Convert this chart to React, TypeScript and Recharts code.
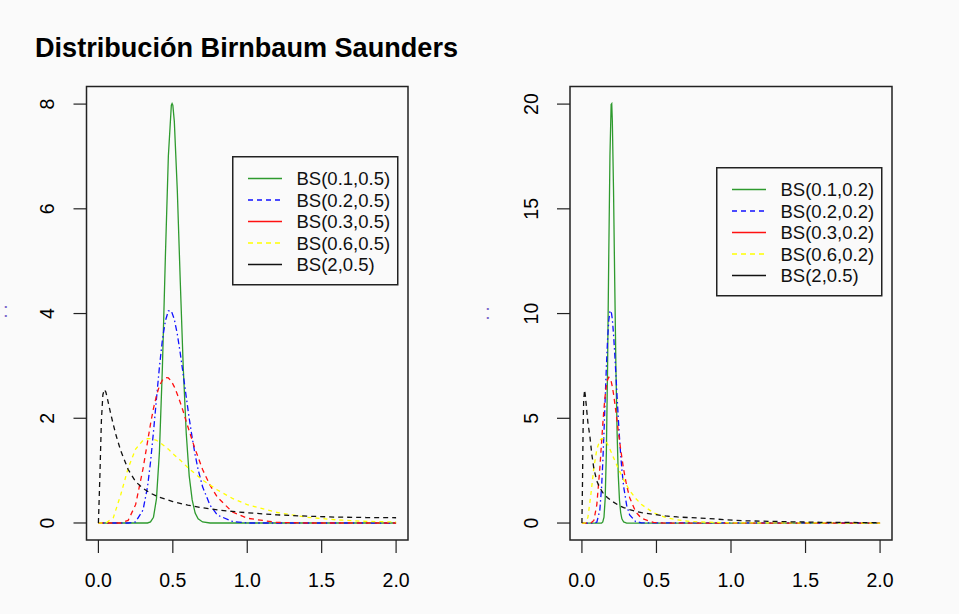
import React from 'react';
import { LineChart, Line, XAxis, YAxis, ReferenceArea, Legend } from 'recharts';

const FONT = '"Liberation Sans", Arial, sans-serif';
const TITLE = 'Distribución Birnbaum Saunders';

const xTicks = [0, 0.5, 1, 1.5, 2];
const xDomain: [number, number] = [-0.08, 2.08];

const leftYTicks = [0, 2, 4, 6, 8];
const leftYDomain: [number, number] = [-0.325, 8.336];
const rightYTicks = [0, 5, 10, 15, 20];
const rightYDomain: [number, number] = [-0.81, 20.84];

const leftLegendLabels = ['BS(0.1,0.5)', 'BS(0.2,0.5)', 'BS(0.3,0.5)', 'BS(0.6,0.5)', 'BS(2,0.5)'];
const rightLegendLabels = ['BS(0.1,0.2)', 'BS(0.2,0.2)', 'BS(0.3,0.2)', 'BS(0.6,0.2)', 'BS(2,0.5)'];

const seriesColors = ['#2e9a2e', '#1010ff', '#ff1010', '#ffff00', '#111111'];
const seriesDash = [undefined, '6 3 1.5 3', '5 4', '4 4', '5 4'];
const legendDash = [undefined, '5 4', undefined, '5 4', undefined];

// ---- left panel values ----
const leftGreenX = [0, 0.33, 0.35, 0.37, 0.39, 0.41, 0.43, 0.45, 0.47, 0.49, 0.495, 0.5, 0.51, 0.53, 0.55, 0.57, 0.59, 0.61, 0.63, 0.65, 0.67, 0.7, 0.75, 2.0];
const leftGreenY = [0, 0, 0.02, 0.11, 0.46, 1.36, 2.98, 5.09, 7.01, 7.98, 8.01, 7.98, 7.67, 6.36, 4.61, 2.97, 1.72, 0.9, 0.44, 0.19, 0.08, 0.02, 0, 0];

const leftBlueX = [0, 0.2, 0.25, 0.3, 0.33, 0.35, 0.37, 0.39, 0.41, 0.43, 0.45, 0.47, 0.49, 0.51, 0.53, 0.55, 0.57, 0.59, 0.61, 0.63, 0.65, 0.67, 0.7, 0.75, 0.8, 0.9, 1.0, 2.0];
const leftBlueY = [0, 0, 0.02, 0.25, 0.69, 1.16, 1.74, 2.37, 2.98, 3.5, 3.86, 4.05, 4.05, 3.89, 3.61, 3.24, 2.83, 2.41, 2.0, 1.63, 1.3, 1.02, 0.69, 0.34, 0.15, 0.03, 0, 0];

const leftRedX = [0, 0.15, 0.2, 0.25, 0.3, 0.33, 0.35, 0.37, 0.39, 0.41, 0.43, 0.45, 0.47, 0.49, 0.51, 0.53, 0.55, 0.57, 0.59, 0.61, 0.63, 0.65, 0.7, 0.75, 0.8, 0.9, 1.0, 1.2, 1.4, 2.0];
const leftRedY = [0, 0, 0.05, 0.35, 1.04, 1.55, 1.89, 2.19, 2.43, 2.62, 2.73, 2.78, 2.77, 2.71, 2.6, 2.46, 2.3, 2.13, 1.94, 1.76, 1.58, 1.41, 1.02, 0.72, 0.49, 0.21, 0.09, 0.01, 0, 0];

const leftYellowX = [0, 0.05, 0.1, 0.15, 0.2, 0.25, 0.3, 0.33, 0.35, 0.39, 0.43, 0.47, 0.51, 0.55, 0.6, 0.7, 0.8, 0.9, 1.0, 1.2, 1.4, 1.6, 1.8, 2.0];
const leftYellowY = [0, 0, 0.1, 0.54, 1.05, 1.41, 1.58, 1.61, 1.61, 1.58, 1.5, 1.41, 1.3, 1.2, 1.06, 0.82, 0.63, 0.47, 0.35, 0.2, 0.11, 0.06, 0.03, 0.02];

const leftBlackX = [0, 0.01, 0.02, 0.03, 0.04, 0.05, 0.06, 0.08, 0.1, 0.12, 0.15, 0.2, 0.25, 0.3, 0.35, 0.4, 0.5, 0.6, 0.7, 0.8, 0.9, 1.0, 1.2, 1.4, 1.6, 1.8, 2.0];
const leftBlackY = [0, 0.9, 1.95, 2.45, 2.55, 2.5, 2.38, 2.12, 1.88, 1.66, 1.38, 1.02, 0.79, 0.66, 0.57, 0.5, 0.41, 0.34, 0.29, 0.25, 0.22, 0.195, 0.155, 0.13, 0.112, 0.104, 0.1];

// ---- right panel values ----
const rightGreenX = [0, 0.132, 0.14, 0.148, 0.156, 0.164, 0.172, 0.18, 0.188, 0.196, 0.2, 0.204, 0.212, 0.22, 0.228, 0.236, 0.244, 0.252, 0.26, 0.268, 0.28, 0.3, 2.0];
const rightGreenY = [0, 0, 0.05, 0.28, 1.16, 3.39, 7.44, 12.73, 17.53, 19.98, 20.02, 19.18, 15.89, 11.52, 7.42, 4.3, 2.26, 1.09, 0.49, 0.2, 0.05, 0, 0];

const rightBlueX = [0, 0.08, 0.1, 0.12, 0.132, 0.14, 0.148, 0.156, 0.164, 0.172, 0.18, 0.188, 0.196, 0.204, 0.212, 0.22, 0.228, 0.236, 0.244, 0.252, 0.26, 0.268, 0.28, 0.3, 0.32, 0.36, 0.4, 2.0];
const rightBlueY = [0, 0, 0.04, 0.61, 1.73, 2.9, 4.35, 5.93, 7.46, 8.75, 9.66, 10.12, 10.13, 9.73, 9.02, 8.1, 7.07, 6.02, 5.0, 4.08, 3.26, 2.56, 1.73, 0.85, 0.39, 0.07, 0.01, 0];

const rightRedX = [0, 0.06, 0.08, 0.1, 0.12, 0.132, 0.14, 0.148, 0.156, 0.164, 0.172, 0.18, 0.188, 0.196, 0.204, 0.212, 0.22, 0.228, 0.236, 0.244, 0.252, 0.26, 0.28, 0.3, 0.32, 0.36, 0.4, 0.48, 0.56, 2.0];
const rightRedY = [0, 0, 0.12, 0.88, 2.6, 3.87, 4.72, 5.47, 6.09, 6.54, 6.83, 6.96, 6.93, 6.77, 6.51, 6.16, 5.75, 5.31, 4.85, 4.39, 3.94, 3.51, 2.55, 1.79, 1.22, 0.54, 0.22, 0.03, 0, 0];

const rightYellowX = [0, 0.02, 0.04, 0.06, 0.08, 0.1, 0.12, 0.132, 0.14, 0.156, 0.172, 0.188, 0.204, 0.22, 0.24, 0.28, 0.32, 0.36, 0.4, 0.48, 0.56, 0.64, 0.72, 0.8, 1.0, 2.0];
const rightYellowY = [0, 0, 0.26, 1.36, 2.64, 3.52, 3.95, 4.03, 4.03, 3.94, 3.76, 3.52, 3.26, 2.99, 2.66, 2.06, 1.56, 1.18, 0.88, 0.49, 0.27, 0.15, 0.08, 0.05, 0.01, 0];

const rightBlackX = [0, 0.004, 0.008, 0.012, 0.018, 0.024, 0.032, 0.04, 0.054, 0.066, 0.08, 0.1, 0.12, 0.14, 0.17, 0.2, 0.24, 0.28, 0.32, 0.36, 0.4, 0.48, 0.56, 0.64, 0.72, 0.84, 0.96, 1.08, 1.2, 1.4, 1.6, 1.8, 2.0];
const rightBlackY = [0, 2.0, 4.6, 5.9, 6.35, 6.0, 5.4, 4.8, 4.1, 3.3, 2.6, 2.0, 1.68, 1.45, 1.22, 1.05, 0.87, 0.74, 0.64, 0.56, 0.5, 0.41, 0.34, 0.29, 0.26, 0.22, 0.16, 0.11, 0.09, 0.06, 0.035, 0.025, 0.02];

const zip = (xs: number[], ys: number[]) => xs.map((x, i) => ({ x, y: ys[i] }));

const leftSeries = [
  zip(leftGreenX, leftGreenY),
  zip(leftBlueX, leftBlueY),
  zip(leftRedX, leftRedY),
  zip(leftYellowX, leftYellowY),
  zip(leftBlackX, leftBlackY),
];
const rightSeries = [
  zip(rightGreenX, rightGreenY),
  zip(rightBlueX, rightBlueY),
  zip(rightRedX, rightRedY),
  zip(rightYellowX, rightYellowY),
  zip(rightBlackX, rightBlackY),
];

const XTick = (props: any) => {
  const { x, y, payload } = props;
  return (
    <text x={x} y={y} dy="0.71em" textAnchor="middle" fontSize={19.5} fontFamily={FONT} fill="#000">
      {Number(payload.value).toFixed(1)}
    </text>
  );
};

const YTick = (props: any) => {
  const { x, y, payload } = props;
  return (
    <text transform={`translate(${x},${y}) rotate(-90)`} textAnchor="middle" fontSize={19.5} fontFamily={FONT} fill="#000">
      {payload.value}
    </text>
  );
};

const makeLegend = (labels: string[]) => () => (
  <svg width={167} height={130} style={{ display: 'block' }}>
    <rect x={0.75} y={0.75} width={165} height={128} fill="#fafafa" stroke="#222" strokeWidth={1.5} />
    {labels.map((lab, i) => {
      const cy = 22.5 + 21.5 * i;
      return (
        <g key={lab + i}>
          <line x1={16} x2={50} y1={cy} y2={cy} stroke={seriesColors[i]} strokeWidth={1.5} strokeDasharray={legendDash[i]} />
          <text x={64.5} y={cy} dy="0.36em" fontSize={18.5} fontFamily={FONT} fill="#111">{lab}</text>
        </g>
      );
    })}
  </svg>
);

type PanelProps = {
  left: number;
  width: number;
  marginLeft: number;
  marginRight: number;
  series: { x: number; y: number }[][];
  labels: string[];
  yDomain: [number, number];
  yTicks: number[];
  legendLeft: number;
  legendTop: number;
};

const Panel = (p: PanelProps) => (
  <div style={{ position: 'absolute', left: p.left, top: 0 }}>
    <LineChart width={p.width} height={614} margin={{ top: 86.5, right: p.marginRight, bottom: 14, left: p.marginLeft }}>
      <XAxis
        dataKey="x"
        type="number"
        domain={xDomain}
        ticks={xTicks}
        allowDataOverflow
        axisLine={false}
        tickSize={13}
        tickMargin={20}
        height={60}
        tickLine={{ stroke: '#222', strokeWidth: 1.2 }}
        tick={<XTick />}
      />
      <YAxis
        dataKey="y"
        type="number"
        domain={p.yDomain}
        ticks={p.yTicks}
        allowDataOverflow
        axisLine={false}
        tickSize={13}
        tickMargin={19.5}
        width={60}
        tickLine={{ stroke: '#222', strokeWidth: 1.2 }}
        tick={<YTick />}
      />
      <ReferenceArea
        x1={xDomain[0]}
        x2={xDomain[1]}
        y1={p.yDomain[0]}
        y2={p.yDomain[1]}
        fill="none"
        fillOpacity={0}
        stroke="#222"
        strokeWidth={1.5}
        ifOverflow="visible"
      />
      {p.series.map((d, i) => (
        <Line
          key={p.labels[i]}
          name={p.labels[i]}
          data={d}
          dataKey="y"
          type="linear"
          stroke={seriesColors[i]}
          strokeWidth={1.3}
          strokeDasharray={seriesDash[i]}
          dot={false}
          activeDot={false}
          isAnimationActive={false}
        />
      ))}
      <Legend
        layout="horizontal"
        verticalAlign="middle"
        align="center"
        content={makeLegend(p.labels)}
        wrapperStyle={{ left: p.legendLeft, top: p.legendTop, width: 167, height: 130 }}
      />
    </LineChart>
  </div>
);

export default function App() {
  return (
    <div style={{ position: 'absolute', left: 0, top: 0, width: 959, height: 614, background: '#fafafa', overflow: 'hidden' }}>
      <Panel
        left={0}
        width={480}
        marginLeft={26.5}
        marginRight={72}
        series={leftSeries}
        labels={leftLegendLabels}
        yDomain={leftYDomain}
        yTicks={leftYTicks}
        legendLeft={232}
        legendTop={156}
      />
      <Panel
        left={480}
        width={479}
        marginLeft={30}
        marginRight={67}
        series={rightSeries}
        labels={rightLegendLabels}
        yDomain={rightYDomain}
        yTicks={rightYTicks}
        legendLeft={236}
        legendTop={167}
      />
      <svg width={959} height={614} style={{ position: 'absolute', left: 0, top: 0, pointerEvents: 'none' }}>
        <text x={35} y={57} fontSize={27.1} fontWeight="bold" fontFamily={FONT} fill="#000">{TITLE}</text>
        <text x={3} y={317} fontSize={20} fontFamily={FONT} fill="#7b68c9">:</text>
        <text x={485} y={319} fontSize={20} fontFamily={FONT} fill="#7b68c9">:</text>
      </svg>
    </div>
  );
}
